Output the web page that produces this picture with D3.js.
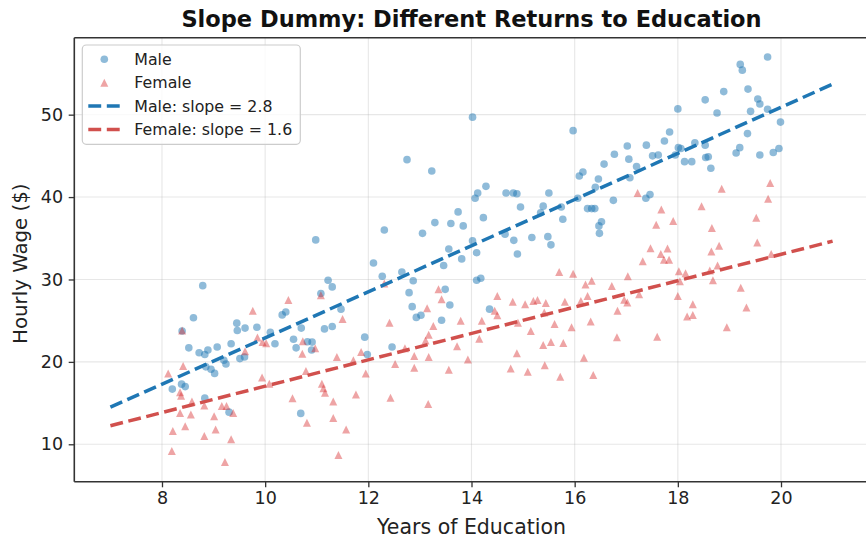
<!DOCTYPE html>
<html>
<head>
<meta charset="utf-8">
<script src="https://cdn.jsdelivr.net/npm/d3@7"></script>
<style>
  html, body { margin: 0; padding: 0; background: #fff; }
  svg { display: block; font-family: "DejaVu Sans", sans-serif; }
</style>
</head>
<body>
<svg id="chart" width="866" height="539"></svg>
<script>
// Hourly wage vs years of education, by sex
const maleEdu = [14.02,15.97,12.75,13.23,16.09,16.16,14.28,16.4,
  19.74,19.21,19.25,19.36,18.89,18.53,19.55,19.59,18.0,19.74,19.41,18.76,19.99,17.84,19.35,17.02,17.39,17.74,16.77,17.05,17.51,17.62,18.01,18.06,17.95,18.33,18.53,18.13,18.27,18.54,18.59,18.64,19.13,19.2,19.59,19.85,19.96,16.57,17.2,17.07,16.46,
  16.75,17.38,17.46,16.39,16.52,16.47,16.48,
  14.12,14.07,14.67,14.81,14.88,15.5,14.95,15.39,15.34,15.74,15.77,16.06,16.25,16.33,12.31,13.29,13.6,13.74,13.84,13.05,14.23,14.02,13.56,14.1,13.81,13.46,14.65,14.82,14.89,15.17,15.48,15.54,12.1,12.27,12.65,12.87,12.79,12.85,12.93,13.02,13.42,13.49,13.58,14.1,14.18,14.35,11.47,11.3,11.3,
  11.93,11.98,12.46,
  8.52,8.72,8.83,8.89,9.07,9.34,8.85,8.95,9.02,9.2,9.24,9.51,9.6,8.2,8.38,8.45,8.83,9.3,10.19,10.55,10.6,10.82,10.91,10.9,10.69,
  10.98,8.79,8.61,9.45,9.46,9.61,9.84,10.1,10.33,10.4,10.7,11.08,11.22,11.15,8.39];
const maleWage = [49.7,48.06,44.54,43.17,42.56,43.05,41.3,41.2,
  57.0,56.1,55.4,53.1,52.8,51.8,51.9,51.3,50.7,50.65,50.4,50.2,49.1,47.9,47.7,46.2,46.3,46.8,45.2,44.6,45.0,45.1,46.0,45.9,45.1,46.6,46.3,44.3,44.3,44.8,44.9,43.5,45.35,46.0,45.1,45.4,45.9,44.0,43.7,42.35,42.2,
  39.6,39.85,40.3,38.6,37.0,36.5,35.6,
  40.5,39.85,40.5,40.5,40.4,40.5,38.8,38.9,38.1,38.8,37.3,39.85,38.6,38.6,36.0,36.9,36.8,38.2,36.5,35.6,37.5,34.7,33.7,33.25,32.5,31.7,35.5,34.75,33.1,35.1,35.2,34.2,32.0,30.4,30.9,29.85,28.4,26.7,25.4,25.65,25.05,28.8,26.9,29.9,30.15,26.4,26.4,29.1,24.3,
  23.0,20.9,21.8,
  21.7,21.1,20.9,21.45,21.8,22.2,19.4,19.1,18.6,20.2,19.75,20.4,20.6,16.7,17.3,17.0,15.6,13.9,22.2,22.75,21.7,22.45,22.4,21.45,13.75,
  34.8,29.25,25.35,24.7,23.8,24.1,24.2,23.6,25.7,26.05,24.1,28.3,29.9,24.0,23.75];

const femaleEdu = [19.79,18.85,17.22,19.75,17.68,18.46,19.52,17.58,17.91,18.66,17.47,17.8,17.67,17.73,17.83,17.32,18.65,18.8,19.54,19.81,18.77,18.62,18.02,18.15,18.04,18.68,17.03,16.72,17.25,18.0,19.22,16.96,17.02,18.29,19.33,16.83,18.18,18.29,18.95,16.82,17.6,16.36,
  15.7,15.97,16.21,16.33,14.5,14.8,15.04,15.2,15.28,15.44,15.81,16.12,16.25,14.45,14.5,15.41,14.9,15.61,15.94,16.31,15.15,14.2,13.79,13.26,13.17,13.36,13.42,13.14,12.41,11.5,12.31,
  11.39,11.71,11.86,11.95,11.76,11.32,11.32,11.57,11.42,12.43,12.52,12.71,12.89,12.89,13.11,13.17,13.16,13.56,13.72,13.93,14.15,14.76,14.88,15.09,15.39,15.42,15.54,15.72,15.78,16.18,
  8.12,8.41,8.35,8.37,8.21,8.19,8.35,8.45,8.56,8.58,8.82,8.82,9.01,9.04,9.16,9.25,9.38,9.34,9.22,9.61,9.85,9.95,10.02,9.94,10.08,10.53,10.73,10.72,10.79,10.97,10.81,11.1,11.13,11.16,
  8.39,9.76,10.45,11.08];
const femaleWage = [41.7,41.0,40.5,39.8,38.5,38.9,37.5,36.65,37.1,36.25,33.8,33.75,33.1,32.4,32.4,32.2,33.4,34.1,34.5,33.1,31.7,31.1,31.0,30.75,29.8,29.9,30.4,29.2,28.2,28.0,29.0,27.55,27.2,27.0,26.6,26.2,25.5,25.7,24.2,23.0,23.06,18.4,
  30.9,30.7,29.4,29.85,28.0,27.3,27.0,27.4,27.5,27.15,27.3,27.4,28.0,26.2,25.65,26.0,24.75,24.6,24.2,24.9,23.75,25.0,25.0,24.35,23.3,28.8,27.6,26.5,24.75,25.2,29.5,
  20.6,20.2,21.2,18.6,16.05,15.2,13.2,11.8,8.7,15.65,19.75,21.65,20.7,19.3,22.6,20.6,14.9,19.05,21.9,20.3,22.8,19.2,21.05,18.8,22.05,19.6,22.4,18.2,22.3,20.5,
  18.6,19.5,16.3,15.9,11.6,9.2,13.8,12.2,13.6,15.2,14.7,11.0,13.4,11.8,14.65,14.65,13.8,10.6,7.85,21.3,22.95,22.4,22.25,18.1,17.35,15.6,22.5,21.0,18.9,21.65,12.6,17.35,16.8,16.25,
  23.8,26.2,27.5,28.1];

// Fitted lines (wage = intercept + slope * education), drawn over this range
const fitRange = [7, 21];
const maleFit = { intercept: -5.1, slope: 2.8 };
const femaleFit = { intercept: 1.05, slope: 1.6 };

const xTicks = [8, 10, 12, 14, 16, 18, 20];
const yTicks = [10, 20, 30, 40, 50];

const BLUE = "#1f77b4";
const RED = "#d62728";
const RED_LINE = "#d1504d";

const svg = d3.select("#chart");
const plot = { left: 74.3, right: 868.7, top: 37.7, bottom: 481.7 };

const x = d3.scaleLinear().domain([6.3, 21.7]).range([plot.left, plot.right]);
const y = d3.scaleLinear().domain([5.46, 59.34]).range([plot.bottom, plot.top]);

svg.append("rect").attr("width", 866).attr("height", 539).attr("fill", "#fff");

// grid
const grid = svg.append("g").attr("stroke", "#b0b0b0").attr("stroke-opacity", 0.3).attr("stroke-width", 1.1);
grid.selectAll("line.gx").data(xTicks).join("line")
  .attr("x1", d => x(d)).attr("x2", d => x(d))
  .attr("y1", plot.top).attr("y2", plot.bottom);
grid.selectAll("line.gy").data(yTicks).join("line")
  .attr("x1", plot.left).attr("x2", plot.right)
  .attr("y1", d => y(d)).attr("y2", d => y(d));

// scatter points
const male = maleEdu.map((e, i) => [e, maleWage[i]]);
const female = femaleEdu.map((e, i) => [e, femaleWage[i]]);

const triSize = 8;
const triPath = `M0,${-triSize/2}L${triSize/2},${triSize/2}L${-triSize/2},${triSize/2}Z`;

svg.append("g").selectAll("circle").data(male).join("circle")
  .attr("cx", d => x(d[0])).attr("cy", d => y(d[1])).attr("r", 3.8)
  .attr("fill", BLUE).attr("fill-opacity", 0.5);

svg.append("g").selectAll("path").data(female).join("path")
  .attr("d", triPath)
  .attr("transform", d => `translate(${x(d[0])},${y(d[1])})`)
  .attr("fill", RED).attr("fill-opacity", 0.42);

// fitted lines
const fitLine = d3.line().x(d => x(d[0])).y(d => y(d[1]));
function fitPoints(f) { return fitRange.map(e => [e, f.intercept + f.slope * e]); }
svg.append("path").attr("d", fitLine(fitPoints(maleFit)))
  .attr("fill", "none").attr("stroke", BLUE).attr("stroke-width", 3.5)
  .attr("stroke-dasharray", "12.9,5.6");
svg.append("path").attr("d", fitLine(fitPoints(femaleFit)))
  .attr("fill", "none").attr("stroke", RED_LINE).attr("stroke-width", 3.5)
  .attr("stroke-dasharray", "12.9,5.6");

// axes
const xAxis = svg.append("g").attr("transform", `translate(0,${plot.bottom})`)
  .call(d3.axisBottom(x).tickValues(xTicks).tickSize(5.6).tickPadding(4.5).tickFormat(d3.format("d")));
const yAxis = svg.append("g").attr("transform", `translate(${plot.left},0)`)
  .call(d3.axisLeft(y).tickValues(yTicks).tickSize(5.6).tickPadding(5.6).tickFormat(d3.format("d")));
[xAxis, yAxis].forEach(a => {
  a.select(".domain").remove();
  a.selectAll(".tick line").attr("stroke", "#333").attr("stroke-width", 1.3);
  a.selectAll(".tick text").attr("font-family", "DejaVu Sans").attr("font-size", 17.5).attr("fill", "#222");
});

// spines
const spines = svg.append("g").attr("stroke", "#333").attr("stroke-width", 1.6).attr("fill", "none");
spines.append("line").attr("x1", plot.left).attr("x2", plot.left).attr("y1", plot.top).attr("y2", plot.bottom);
spines.append("line").attr("x1", plot.left).attr("x2", plot.right).attr("y1", plot.bottom).attr("y2", plot.bottom);
spines.append("line").attr("x1", plot.left).attr("x2", plot.right).attr("y1", plot.top).attr("y2", plot.top);
spines.append("line").attr("x1", plot.right).attr("x2", plot.right).attr("y1", plot.top).attr("y2", plot.bottom);

// labels
const cx = (plot.left + plot.right) / 2;
svg.append("text").attr("x", cx).attr("y", 27).attr("text-anchor", "middle")
  .attr("font-size", 22.5).attr("font-weight", "bold").attr("fill", "#111")
  .text("Slope Dummy: Different Returns to Education");
svg.append("text").attr("x", cx).attr("y", 534).attr("text-anchor", "middle")
  .attr("font-size", 20.5).attr("fill", "#222").text("Years of Education");
svg.append("text").attr("transform", `translate(27,${(plot.top + plot.bottom) / 2 + 4}) rotate(-90)`)
  .attr("text-anchor", "middle").attr("font-size", 19.8).attr("fill", "#222").text("Hourly Wage ($)");

// legend
const lg = svg.append("g");
lg.append("rect").attr("x", 82.3).attr("y", 45).attr("width", 218).attr("height", 99.3)
  .attr("rx", 4).attr("fill", "#fff").attr("fill-opacity", 0.8)
  .attr("stroke", "#cccccc").attr("stroke-width", 1.2);
const legendItems = [
  { label: "Male", kind: "circle", color: BLUE },
  { label: "Female", kind: "tri", color: RED },
  { label: "Male: slope = " + maleFit.slope, kind: "line", color: BLUE },
  { label: "Female: slope = " + femaleFit.slope, kind: "line", color: RED_LINE }
];
legendItems.forEach((it, i) => {
  const yy = 59.3 + i * 23.4;
  if (it.kind === "circle") {
    lg.append("circle").attr("cx", 104.3).attr("cy", yy).attr("r", 3.8)
      .attr("fill", it.color).attr("fill-opacity", 0.5);
  } else if (it.kind === "tri") {
    lg.append("path").attr("d", triPath).attr("transform", `translate(104.3,${yy})`)
      .attr("fill", it.color).attr("fill-opacity", 0.42);
  } else {
    lg.append("line").attr("x1", 88.3).attr("x2", 120.7).attr("y1", yy).attr("y2", yy)
      .attr("stroke", it.color).attr("stroke-width", 3.5).attr("stroke-dasharray", "12.9,5.6");
  }
  lg.append("text").attr("x", 134.3).attr("y", yy).attr("dy", "0.36em")
    .attr("font-size", 15.8).attr("fill", "#222").text(it.label);
});
</script>
</body>
</html>
